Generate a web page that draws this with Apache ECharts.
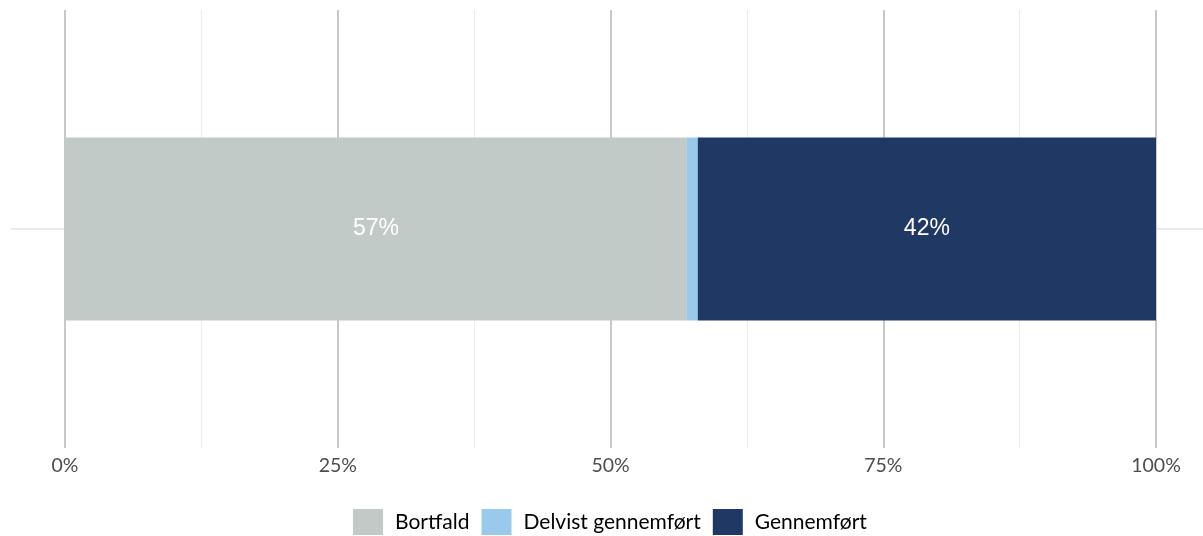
<!DOCTYPE html>
<html>
<head>
<meta charset="utf-8">
<script src="https://cdn.jsdelivr.net/npm/echarts@6/dist/echarts.min.js"></script>
<style>html,body{margin:0;padding:0;background:#fff}#chart{width:1203px;height:536px}</style>
</head>
<body>
<div id="chart"></div>
<script>
const categories = [''];
const seriesNames = ['Bortfald', 'Delvist gennemført', 'Gennemført'];
const bortfald = [57.0];
const delvist = [1.0];
const gennemfoert = [42.0];
const tickValues = [0, 25, 50, 75, 100];
const colors = ['#C2CAC8', '#99C9EB', '#203864'];

const chart = echarts.init(document.getElementById('chart'), null, {renderer: 'canvas'});
const labelCfg = {
  show: true, position: 'inside', color: '#ffffff', fontSize: 23,
  fontFamily: 'Liberation Sans, Arial, sans-serif',
  formatter: p => Math.round(p.value) + '%'
};
const dataSets = [bortfald, delvist, gennemfoert];
chart.setOption({
  animation: false,
  backgroundColor: '#ffffff',
  grid: [
    {left: 65, right: 47, top: 10, bottom: 88},
    {left: 11, right: 0, top: 10, bottom: 88}
  ],
  xAxis: [
    {type: 'value', gridIndex: 0, min: 0, max: 100, interval: 25,
     axisLine: {show: false}, axisTick: {show: false},
     axisLabel: {formatter: '{value}%', color: '#4d4d4d', fontSize: 19.5, fontFamily: 'Lato', margin: 8},
     splitLine: {show: true, lineStyle: {color: '#c8c8c8', width: 2}},
     minorTick: {show: false, splitNumber: 2},
     minorSplitLine: {show: true, lineStyle: {color: '#ebebeb', width: 1}}},
    {type: 'value', gridIndex: 1, min: 0, max: 1, show: false}
  ],
  yAxis: [
    {type: 'category', gridIndex: 0, data: categories, show: false},
    {type: 'value', gridIndex: 1, min: 0, max: 2, interval: 1,
     axisLine: {show: false}, axisTick: {show: false}, axisLabel: {show: false},
     splitLine: {show: true, lineStyle: {color: ['rgba(0,0,0,0)', '#ebebeb'], width: 2}}}
  ],
  legend: {
    top: 509, left: 353, itemWidth: 30, itemHeight: 26, itemGap: 12, icon: 'rect', padding: 0,
    data: seriesNames,
    textStyle: {color: '#000000', fontSize: 21, fontFamily: 'Lato', padding: [0, 0, 0, 7]}
  },
  series: seriesNames.map((name, i) => ({
    name, type: 'bar', stack: 'total', xAxisIndex: 0, yAxisIndex: 0,
    barWidth: '41.8%', data: dataSets[i],
    itemStyle: {color: colors[i]},
    label: Object.assign({}, labelCfg, {show: i !== 1})
  }))
});
</script>
</body>
</html>
